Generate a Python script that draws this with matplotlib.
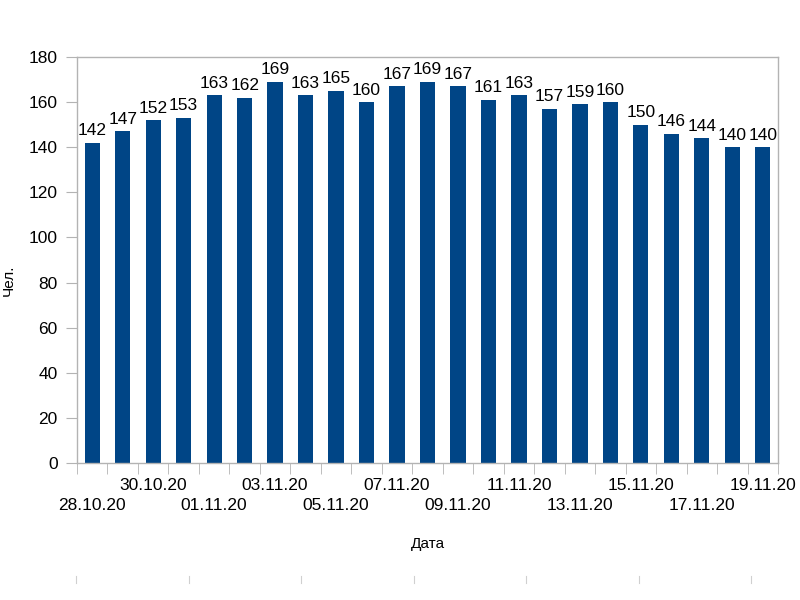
import matplotlib
matplotlib.use('Agg')
import matplotlib.pyplot as plt
from matplotlib.lines import Line2D

plt.rcParams['font.family'] = ['Liberation Sans', 'DejaVu Sans']

dates = ['28.10.20', '29.10.20', '30.10.20', '31.10.20', '01.11.20', '02.11.20',
         '03.11.20', '04.11.20', '05.11.20', '06.11.20', '07.11.20', '08.11.20',
         '09.11.20', '10.11.20', '11.11.20', '12.11.20', '13.11.20', '14.11.20',
         '15.11.20', '16.11.20', '17.11.20', '18.11.20', '19.11.20']
values = [142, 147, 152, 153, 163, 162, 169, 163, 165, 160, 167, 169,
          167, 161, 163, 157, 159, 160, 150, 146, 144, 140, 140]

bar_color = '#004586'
frame_color = '#b3b3b3'

fig = plt.figure(figsize=(8, 6), dpi=100)
ax = fig.add_axes([0.09625, 0.2283, 0.87625, 0.6767])

x = list(range(len(values)))
ax.bar(x, values, width=0.5, color=bar_color, zorder=2)

for xi, v in zip(x, values):
    ax.text(xi, v + 2, str(v), ha='center', va='bottom', fontsize=12.5)

ax.set_xlim(-0.5, len(values) - 0.5)
ax.set_ylim(0, 180)
ax.set_yticks(range(0, 181, 20))

# labels every second day, staggered on two rows
label_pos = x[::2]
labels = []
for k, i in enumerate(label_pos):
    labels.append(dates[i] if k % 2 == 1 else '\n' + dates[i])
ax.set_xticks(label_pos)
ax.set_xticklabels(labels, fontsize=12.5, linespacing=1.4)
ax.set_xticks([i - 0.5 for i in range(len(values) + 1)], minor=True)
ax.tick_params(axis='x', which='major', length=0, pad=11)
ax.tick_params(axis='x', which='minor', length=8, color=frame_color, direction='out')
ax.tick_params(axis='y', labelsize=12.5, length=8, color=frame_color, pad=6)

for s in ax.spines.values():
    s.set_color(frame_color)
    s.set_linewidth(1)

ax.set_xlabel('Дата', fontsize=11, labelpad=17)
ax.set_ylabel('Чел.', fontsize=11)
ax.yaxis.set_label_coords(-0.088, 0.45)

# faint marks along the bottom of the picture
for px in [76, 189, 301, 414, 526, 639, 751]:
    fig.add_artist(Line2D([px / 800, px / 800], [1 - 576 / 600, 1 - 583 / 600],
                          color='#d0d0d0', linewidth=0.8))

fig.savefig('out.png', dpi=100)
